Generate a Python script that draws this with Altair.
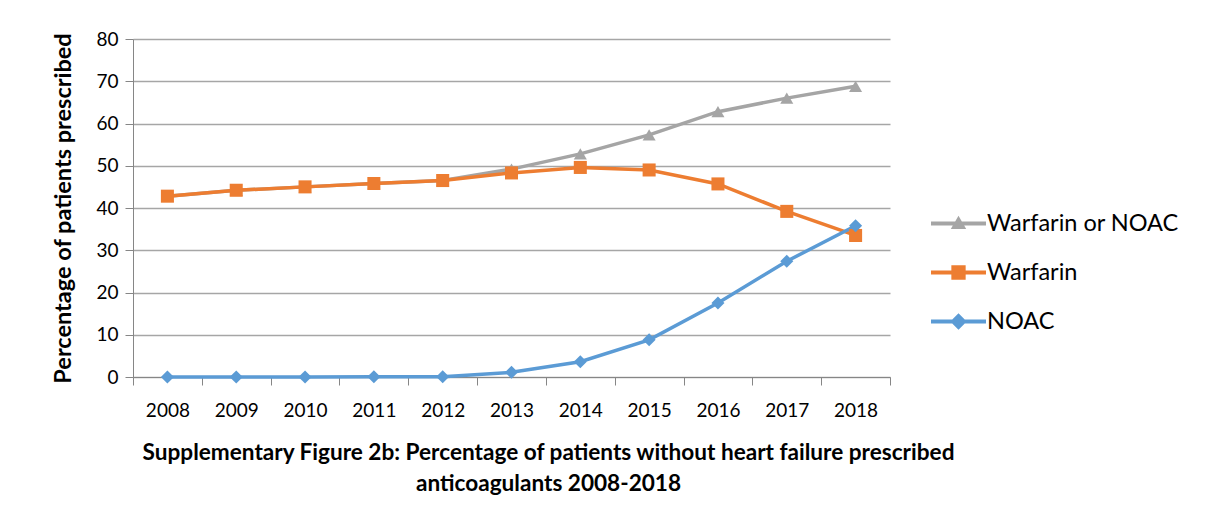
import altair as alt
import pandas as pd

years = [2008, 2009, 2010, 2011, 2012, 2013, 2014, 2015, 2016, 2017, 2018]
warfarin_or_noac = [42.8, 44.2, 45.0, 45.8, 46.5, 49.2, 52.8, 57.3, 62.8, 66.0, 68.8]
warfarin = [42.8, 44.2, 45.0, 45.8, 46.5, 48.3, 49.6, 49.0, 45.7, 39.2, 33.5]
noac = [0.0, 0.0, 0.0, 0.05, 0.05, 1.1, 3.6, 8.8, 17.5, 27.4, 35.8]

series_names = ["Warfarin or NOAC", "Warfarin", "NOAC"]
series_colors = ["#A5A5A5", "#ED7D31", "#5B9BD5"]
marker_shapes = ["triangle-up", "square", "diamond"]
legend_paths = [
    "M-1,-0.07H1V0.07H-1Z M0,-0.28L0.28,0.2L-0.28,0.2Z",
    "M-1,-0.07H1V0.07H-1Z M-0.26,-0.26H0.26V0.26H-0.26Z",
    "M-1,-0.07H1V0.07H-1Z M0,-0.3L0.3,0L0,0.3L-0.3,0Z",
]

rows = []
for name, vals in zip(series_names, [warfarin_or_noac, warfarin, noac]):
    for y, v in zip(years, vals):
        rows.append({"year": str(y), "series": name, "value": v})
df = pd.DataFrame(rows)

FONT = "Lato"

x_enc = alt.X(
    "year:O",
    bandPosition=0.5,
    scale=alt.Scale(type="band", paddingInner=0, paddingOuter=0),
    axis=alt.Axis(
        title=None, tickBand="extent", tickSize=8, tickColor="#868686",
        domainColor="#868686", labelFontSize=19, labelFont=FONT,
        labelColor="#000000", labelPadding=16, labelAngle=0, grid=False,
    ),
)
y_enc = alt.Y(
    "value:Q",
    scale=alt.Scale(domain=[0, 80]),
    axis=alt.Axis(
        title="Percentage of patients prescribed", values=list(range(0, 81, 10)),
        tickSize=8, tickColor="#868686", domainColor="#868686",
        gridColor="#A6A6A6", gridWidth=1.3, labelFontSize=19, labelFont=FONT,
        labelColor="#000000", labelPadding=7, titleFont=FONT, titleFontSize=23.5,
        titleFontWeight="bold", titleColor="#000000", titlePadding=20,
    ),
)

color_scale = alt.Scale(domain=series_names, range=series_colors)

lines = alt.Chart(df).mark_line(strokeWidth=3.5).encode(
    x=x_enc, y=y_enc,
    color=alt.Color("series:N", scale=color_scale, legend=None),
    order=alt.Order("year:O"),
)
points = alt.Chart(df).mark_point(filled=True, opacity=1).encode(
    x=x_enc, y=y_enc,
    color=alt.Color("series:N", scale=color_scale, legend=None),
    shape=alt.Shape("series:N", scale=alt.Scale(domain=series_names, range=marker_shapes), legend=None),
    size=alt.value(170),
)
legend_layer = alt.Chart(df).mark_point(filled=True, opacity=0).encode(
    x=x_enc, y=y_enc,
    color=alt.Color("series:N", scale=alt.Scale(domain=series_names, range=series_colors),
                    legend=alt.Legend(title=None)),
    shape=alt.Shape("series:N", scale=alt.Scale(domain=series_names, range=legend_paths),
                    legend=alt.Legend(title=None)),
)

chart = alt.layer(lines, points, legend_layer).resolve_scale(
    color="independent", shape="independent"
).properties(
    width=757, height=338,
    background="white",
    padding={"left": 43, "top": 22, "right": 5, "bottom": 5},
    title=alt.TitleParams(
        ["Supplementary Figure 2b: Percentage of patients without heart failure prescribed",
         "anticoagulants 2008-2018"],
        orient="bottom", anchor="middle", font=FONT, fontSize=22.6, fontWeight="bold",
        color="#000000", lineHeight=31, offset=22, dx=37,
    ),
).configure_view(stroke=None).configure_legend(
    orient="none", legendX=798, legendY=157, symbolSize=3025, symbolOpacity=1,
    symbolStrokeWidth=0, labelFont=FONT, labelFontSize=23.5, labelColor="#000000",
    labelOffset=1, labelLimit=400, rowPadding=10, padding=0,
)

chart.save("out.html", embed_options={"renderer": "svg", "actions": False})
